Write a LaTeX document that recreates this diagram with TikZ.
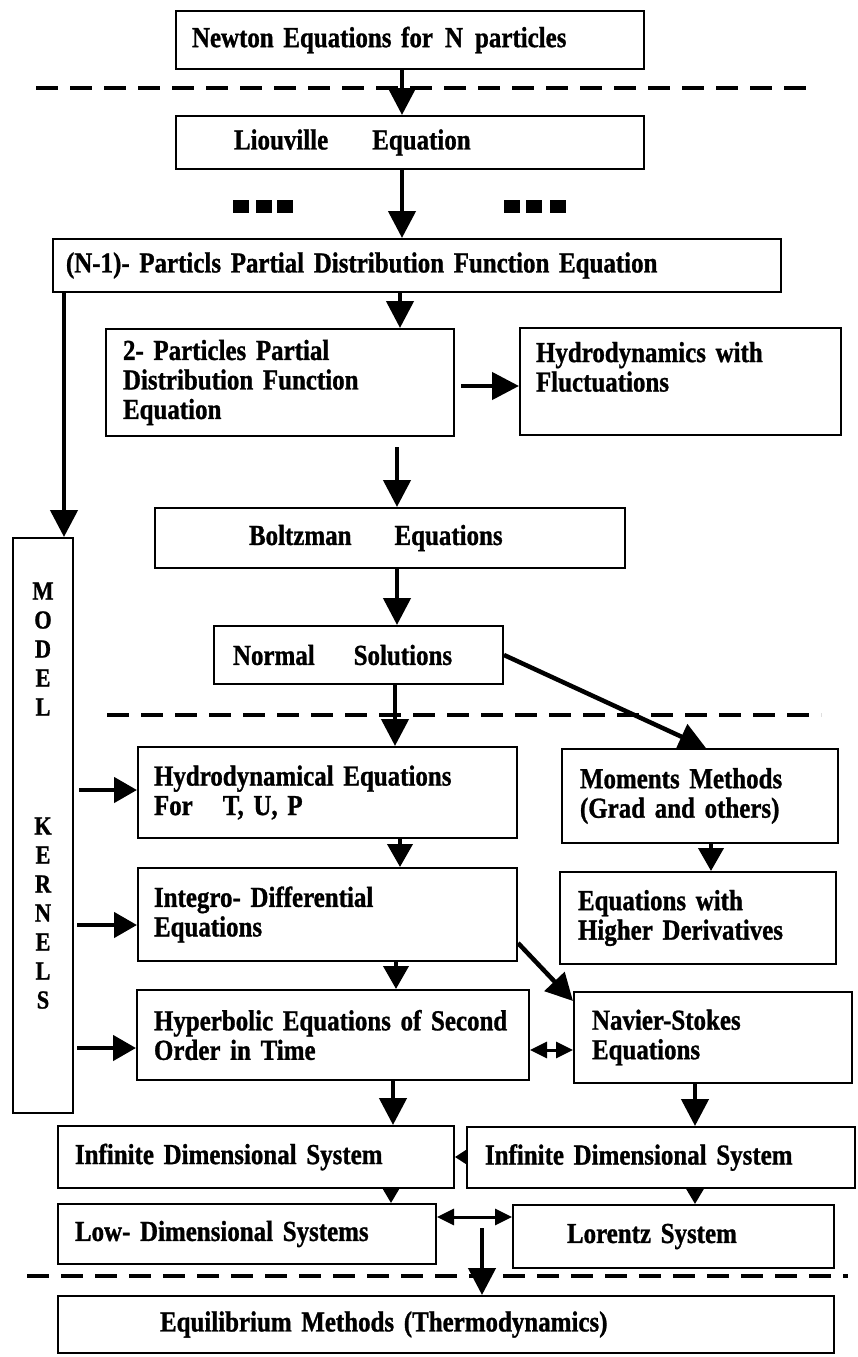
\documentclass[tikz,border=0pt]{standalone}
\usepackage{fontspec}
\setmainfont{Liberation Serif}[FakeStretch=0.86, FakeBold=1.0]
\usetikzlibrary{arrows.meta}
\begin{document}
\begin{tikzpicture}[x=1pt,y=-1pt,
  box/.style={draw, line width=2pt, anchor=north west, align=left, inner ysep=0pt,
    font=\fontsize{29}{29.5}\selectfont\bfseries},
  arr/.style={line width=4.5pt, -{Triangle[length=27pt,width=27pt]}},
  marr/.style={line width=4pt, -{Triangle[length=23pt,width=25pt]}},
  sarr/.style={line width=4.5pt, -{Triangle[length=23pt,width=25pt]}},
  karr/.style={line width=3pt, -{Triangle[length=16pt,width=18pt]}},
  darr/.style={line width=3pt, {Triangle[length=17pt,width=16pt]}-{Triangle[length=17pt,width=16pt]}},
  tarr/.style={line width=2pt, -{Triangle[length=12pt,width=15pt]}},
  dline/.style={line width=4.5pt, dash pattern=on 22pt off 12pt},
]
\useasboundingbox (0,0) rectangle (858,1357);
\fill[white] (0,0) rectangle (858,1357);

% column / level coordinates
\coordinate (x402) at (402,0);
\coordinate (x400) at (400,0);
\coordinate (x397) at (397,0);
\coordinate (x396) at (396,0);
\coordinate (x395) at (395,0);
\coordinate (x393) at (393,0);
\coordinate (x391) at (391,0);
\coordinate (x64) at (64,0);
\coordinate (x695) at (695,0);
\coordinate (x706) at (706,0);
\coordinate (x711) at (711,0);
\coordinate (y386) at (0,386);
\coordinate (y655) at (0,655);
\coordinate (y790) at (0,790);
\coordinate (y925) at (0,925);
\coordinate (y943) at (0,943);
\coordinate (y1001) at (0,1001);
\coordinate (y1048) at (0,1048);
\coordinate (y1050) at (0,1050);
\coordinate (y1157) at (0,1157);
\coordinate (y1217) at (0,1217);
\coordinate (eq0) at (482,1228);

% boxes
\node[box, minimum width=468pt, minimum height=58pt, inner xsep=16pt, text width=436pt] (newton) at (175,10)
  {Newton Equations for\hspace*{12pt}N\hspace*{12pt}particles};
\node[box, minimum width=468pt, minimum height=53pt, inner xsep=58pt, text width=352pt] (liou) at (175,115)
  {Liouville\hspace*{44pt}Equation};
\node[box, minimum width=728pt, minimum height=53pt, inner xsep=13pt, text width=702pt] (n1) at (52,238)
  {(N-1)- Particls Partial Distribution Function Equation};
\node[box, minimum width=348pt, minimum height=107pt, inner xsep=17pt, text width=314pt] (p2) at (105,328)
  {2- Particles Partial\\Distribution Function\\Equation};
\node[box, minimum width=321pt, minimum height=107pt, inner xsep=16pt, text width=289pt] (hydf) at (519,327)
  {Hydrodynamics with\\Fluctuations\\\mbox{}};
\node[box, minimum width=470pt, minimum height=60pt, inner xsep=94pt, text width=282pt] (boltz) at (154,507)
  {Boltzman\hspace*{43pt}Equations};
\node[box, minimum width=289pt, minimum height=58pt, inner xsep=19pt, text width=251pt] (normal) at (213,625)
  {Normal\hspace*{39pt}Solutions};
\node[box, minimum width=379pt, minimum height=91pt, inner xsep=16pt, text width=347pt] (hyd) at (137,746)
  {Hydrodynamical Equations\\For\hspace*{30pt}T, U, P};
\node[box, minimum width=276pt, minimum height=94pt, inner xsep=18pt, text width=240pt] (mom) at (561,748)
  {Moments Methods\\(Grad and others)};
\node[box, minimum width=379pt, minimum height=93pt, inner xsep=16pt, text width=347pt] (integ) at (137,867)
  {Integro- Differential\\Equations};
\node[box, minimum width=276pt, minimum height=92pt, inner xsep=18pt, text width=240pt] (higher) at (559,871)
  {Equations with\\Higher Derivatives};
\node[box, minimum width=392pt, minimum height=90pt, inner xsep=17pt, text width=358pt] (hyper) at (136,989)
  {Hyperbolic Equations of Second\\Order in Time};
\node[box, minimum width=278pt, minimum height=91pt, inner xsep=18pt, text width=242pt] (navier) at (573,991)
  {Navier-Stokes\\Equations};
\node[box, minimum width=396pt, minimum height=62pt, inner xsep=17pt, text width=362pt] (infl) at (57,1125)
  {Infinite Dimensional System};
\node[box, minimum width=388pt, minimum height=61pt, inner xsep=18pt, text width=352pt] (infr) at (466,1126)
  {Infinite Dimensional System};
\node[box, minimum width=378pt, minimum height=60pt, inner xsep=17pt, text width=344pt] (low) at (57,1203)
  {Low- Dimensional Systems};
\node[box, minimum width=321pt, minimum height=63pt, inner xsep=54pt, text width=213pt] (lor) at (512,1204)
  {Lorentz System};
\node[box, minimum width=776pt, minimum height=57pt, inner xsep=102pt, text width=572pt] (equil) at (57,1295)
  {Equilibrium Methods (Thermodynamics)};
\node[box, minimum width=60pt, minimum height=575pt, inner xsep=0pt, text width=60pt, align=center,
  font=\fontsize{26}{29}\selectfont\bfseries] (kern) at (12,537)
  {M\\O\\D\\E\\L\\[90pt]K\\E\\R\\N\\E\\L\\S\\[31pt]\mbox{}};

% dashed separators
\draw[dline] (36,88) -- (810,88);
\draw[dline] (107,715) -- (821,715);
\draw[dline] (27,1276) -- (848,1276);

% small squares
\fill (233,200) rectangle (249,213);
\fill (256,200) rectangle (272,213);
\fill (277,200) rectangle (293,213);
\fill (504,200) rectangle (520,213);
\fill (526,200) rectangle (542,213);
\fill (550,200) rectangle (566,213);

% connectors
\draw[arr] (newton.south -| x402) -- (liou.north -| x402);
\draw[arr] (liou.south -| x402) -- (n1.north -| x402);
\draw[arr] (n1.south -| x400) -- (p2.north -| x400);
\draw[arr] (n1.south -| x64) -- (kern.north -| x64);
\draw[arr, shorten <=6pt] (p2.east |- y386) -- (hydf.west |- y386);
\draw[arr, shorten <=10pt] (p2.south -| x397) -- (boltz.north -| x397);
\draw[arr] (boltz.south -| x397) -- (normal.north -| x397);
\draw[arr] (normal.south -| x395) -- (hyd.north -| x395);
\draw[arr] (normal.east |- y655) -- (mom.north -| x706);
\draw[sarr, shorten <=5pt] (kern.east |- y790) -- (hyd.west |- y790);
\draw[marr] (hyd.south -| x400) -- (integ.north -| x400);
\draw[marr] (mom.south -| x711) -- (higher.north -| x711);
\draw[sarr, shorten <=3pt] (kern.east |- y925) -- (integ.west |- y925);
\draw[arr] (integ.east |- y943) -- (navier.west |- y1001);
\draw[marr] (integ.south -| x396) -- (hyper.north -| x396);
\draw[sarr, shorten <=3pt] (kern.east |- y1048) -- (hyper.west |- y1048);
\draw[darr] (hyper.east |- y1050) -- (navier.west |- y1050);
\draw[arr] (hyper.south -| x393) -- (infl.north -| x393);
\draw[arr] (navier.south -| x695) -- (infr.north -| x695);
\draw[tarr] (infr.west |- y1157) -- (infl.east |- y1157);
\draw[karr] (infl.south -| x391) -- (low.north -| x391);
\draw[karr] (infr.south -| x695) -- (lor.north -| x695);
\draw[darr] (low.east |- y1217) -- (lor.west |- y1217);
\draw[arr] (eq0) -- (equil.north -| eq0);
\end{tikzpicture}
\end{document}
